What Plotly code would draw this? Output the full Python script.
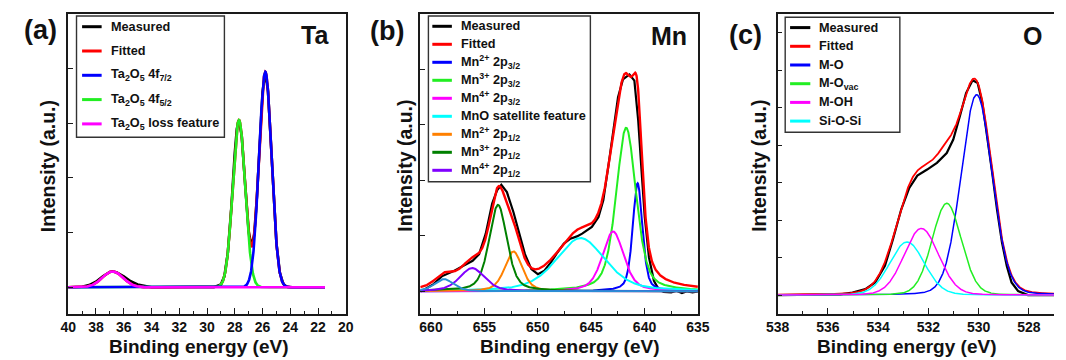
import numpy as np
import plotly.graph_objects as go

W, H = 1066, 360

# ---------------- Panel (a): Ta 4f ----------------
a_meas_E = [40, 39, 38.5, 38, 37.5, 37, 36.8, 36.5, 36, 35.5, 35, 34.5, 34, 32, 30, 29.5, 29, 28.75,
            28.5, 28.25, 28, 27.85, 27.7, 27.5, 27.25, 27, 26.8, 26.6, 26.4, 26.2, 26, 25.8, 25.6,
            25.4, 25.2, 25, 24.75, 24.5, 24.25, 24, 22, 21.5]
a_meas_I = [0.0, 0.01, 0.04, 0.10, 0.20, 0.28, 0.29, 0.27, 0.20, 0.11, 0.05, 0.02, 0.0, 0.0, 0.0, 0.0,
            0.05, 0.20, 0.63, 1.45, 2.45, 2.90, 3.06, 2.77, 1.88, 1.02, 0.76, 0.96, 1.67, 2.66, 3.57,
            3.94, 3.57, 2.65, 1.62, 0.81, 0.26, 0.06, 0.01, 0.0, 0.0, 0.0]
a_names = ["Ta<sub>2</sub>O<sub>5</sub> 4f<sub>7/2</sub>",
           "Ta<sub>2</sub>O<sub>5</sub> 4f<sub>5/2</sub>",
           "Ta<sub>2</sub>O<sub>5</sub> loss feature"]
a_colors = ["#0000ff", "#22ee22", "#ff00ff"]
a_center = [25.80, 27.70, 36.80]
a_height = [3.94, 3.06, 0.29]
a_fwhm = [1.06, 1.06, 1.75]
a_xticks = [40, 38, 36, 34, 32, 30, 28, 26, 24, 22, 20]
a_xminor = [39, 37, 35, 33, 31, 29, 27, 25, 23, 21]

# ---------------- Panel (b): Mn 2p ----------------
b_meas_E = [661, 660.8, 659.76, 658.99, 657.93, 657.0, 656.1, 655.49, 654.87, 654.27, 653.81, 653.41,
            652.89, 652.28, 651.82, 651.2, 650.6, 649.99, 649.38, 648.77, 648.16, 647.55, 646.94,
            646.33, 645.84, 644.93, 644.31, 643.86, 643.4, 642.94, 642.48, 642.02, 641.41, 640.95,
            640.59, 640.28, 639.98, 639.58, 639.12, 638.66, 638.2, 637.5, 637, 636.5, 636, 635.5, 635]
b_meas_I = [0.0, 0.01, 0.13, 0.27, 0.36, 0.46, 0.55, 0.67, 1.04, 1.58, 1.82, 1.92, 1.79, 1.43, 1.10,
            0.67, 0.40, 0.31, 0.37, 0.52, 0.70, 0.86, 0.95, 0.99, 1.04, 1.16, 1.34, 1.64, 2.24, 2.90,
            3.50, 3.82, 3.91, 3.80, 3.08, 2.18, 1.34, 0.61, 0.19, 0.03, -0.01, -0.02, 0.01, -0.03,
            0.0, -0.02, 0.0]
b_names = ["Mn<sup>2+</sup> 2p<sub>3/2</sub>", "Mn<sup>3+</sup> 2p<sub>3/2</sub>",
           "Mn<sup>4+</sup> 2p<sub>3/2</sub>", "MnO satellite feature",
           "Mn<sup>2+</sup> 2p<sub>1/2</sub>", "Mn<sup>3+</sup> 2p<sub>1/2</sub>",
           "Mn<sup>4+</sup> 2p<sub>1/2</sub>", ""]
b_colors = ["#0000ff", "#22ee22", "#ff00ff", "#00ffff", "#ff8000", "#008000", "#8000ff", "#2a8fd4"]
b_center = [640.65, 641.72, 642.94, 645.99, 652.28, 653.72, 656.15, 658.78]
b_height = [1.95, 2.95, 1.08, 0.96, 0.72, 1.56, 0.42, 0.22]
b_fwhm = [1.07, 2.20, 2.35, 5.40, 1.93, 1.98, 2.75, 2.10]
b_xticks = [660, 655, 650, 645, 640, 635]
b_xminor = [657.5, 652.5, 647.5, 642.5, 637.5]

# ---------------- Panel (c): O 1s ----------------
c_meas_E = [538, 537, 536, 535.5, 535.02, 534.51, 534.12, 533.73, 533.41, 533.08, 532.76, 532.44,
            532.05, 531.66, 531.27, 531.01, 530.75, 530.5, 530.24, 530.04, 529.85, 529.66, 529.46,
            529.27, 529.07, 528.88, 528.69, 528.43, 528.04, 527.5, 527]
c_meas_I = [0.0, 0.0, 0.0, 0.02, 0.07, 0.16, 0.34, 0.78, 1.49, 2.29, 2.86, 3.19, 3.35, 3.53, 3.79,
            4.15, 4.77, 5.39, 5.73, 5.66, 5.12, 4.24, 3.26, 2.29, 1.40, 0.78, 0.34, 0.11, 0.0, 0.0, 0.0]
c_names = ["M-O", "M-O<sub>vac</sub>", "M-OH", "Si-O-Si"]
c_colors = ["#0000ff", "#22ee22", "#ff00ff", "#00ffff"]
c_center = [530.08, 531.27, 532.28, 532.85]
c_height = [5.35, 2.45, 1.78, 1.42]
c_fwhm = [1.46, 1.37, 1.62, 1.62]
c_xticks = [538, 536, 534, 532, 530, 528]
c_xminor = [537, 535, 533, 531, 529]

FONT = "Liberation Sans"


def pv(E, c, h, w, eta):
    x = (E - c) / w
    return h * ((1 - eta) * np.exp(-4 * np.log(2) * x ** 2) + eta / (1 + 4 * x ** 2))


panels = [
    dict(sfx="", E=(40.0, 21.5), meas=(a_meas_E, a_meas_I), names=a_names, colors=a_colors,
         center=a_center, height=a_height, fwhm=a_fwhm, eta=0.0, xr=[40, 20], yr=[-0.48, 5.0],
         dom=(57.5, 341.5), xt=a_xticks, xm=a_xminor, lw=2.6, rw=2.6, kw=2.6,
         label="(a)", lab_xy=(29.5, 30), elem="Ta", elem_xy=(326, 35), ymirror=True,
         xtitle_x=191, ytitle_x=37,
         leg=dict(box=(66, 16, 217.3, 137.3), y0=26.7, dy=24.3, lx=(71.7, 91.7), tx=99,
                  entries=[("Measured", "#000000"), ("Fitted", "#ff0000")] + list(zip(a_names, a_colors))),
         top=[1, 0, 2]),
    dict(sfx="2", E=(661.0, 635.0), meas=(b_meas_E, b_meas_I), names=b_names, colors=b_colors,
         center=b_center, height=b_height, fwhm=b_fwhm, eta=0.45, xr=[661, 635], yr=[-0.4, 5.0],
         dom=(417.7, 701.7), xt=b_xticks, xm=b_xminor, lw=2.0, rw=2.4, kw=2.2,
         label="(b)", lab_xy=(383.5, 31), elem="Mn", elem_xy=(693, 36), ymirror=True,
         xtitle_x=570, ytitle_x=401.7,
         leg=dict(box=(426, 16, 591.7, 181.7), y0=26.3, dy=18.0, lx=(430, 450), tx=457,
                  entries=[("Measured", "#000000"), ("Fitted", "#ff0000")] + list(zip(b_names[:7], b_colors[:7]))),
         top=None),
    dict(sfx="3", E=(538.0, 527.0), meas=(c_meas_E, c_meas_I), names=c_names, colors=c_colors,
         center=c_center, height=c_height, fwhm=c_fwhm, eta=0.1, xr=[538, 527], yr=[-0.49, 7.5],
         dom=(783.3, 1066), xt=c_xticks, xm=c_xminor, lw=1.5, rw=1.8, kw=2.2,
         label="(c)", lab_xy=(750, 35), elem="O", elem_xy=(1056, 36), ymirror=False,
         xtitle_x=915, ytitle_x=764,
         leg=dict(box=(791, 17.3, 908.3, 132.3), y0=27.6, dy=18.7, lx=(796, 816.7), tx=824,
                  entries=[("Measured", "#000000"), ("Fitted", "#ff0000")] + list(zip(c_names, c_colors))),
         top=[0, 1, 3, 2]),
]

fig = go.Figure()
shapes = []
annots = []
PT, PB = 14, 313.5
ydom = [1 - PB / H, 1 - PT / H]

for p in panels:
    xs, ys = "x" + p["sfx"], "y" + p["sfx"]
    E = np.linspace(p["E"][0], p["E"][1], 1500)
    comps = [pv(E, c, h, w, p["eta"]) for c, h, w in zip(p["center"], p["height"], p["fwhm"])]
    fit = np.sum(comps, axis=0)
    fig.add_trace(go.Scatter(x=p["meas"][0], y=p["meas"][1], mode="lines", xaxis=xs, yaxis=ys,
                             line=dict(color="#000000", width=p["kw"]), showlegend=False))
    fig.add_trace(go.Scatter(x=E, y=fit, mode="lines", xaxis=xs, yaxis=ys,
                             line=dict(color="#ff0000", width=p["rw"]), showlegend=False))
    order = p["top"] if p["top"] is not None else list(range(len(comps)))
    for i in order:
        fig.add_trace(go.Scatter(x=E, y=comps[i], mode="lines", xaxis=xs, yaxis=ys,
                                 line=dict(color=p["colors"][i], width=p["lw"]), showlegend=False))

    axline = dict(showline=True, linecolor="#1a1a1a", linewidth=1.6, showgrid=False, zeroline=False,
                  ticks="inside", tickcolor="#1a1a1a", tickwidth=1.4)
    fig.update_layout(**{
        "xaxis" + p["sfx"]: dict(axline, domain=[p["dom"][0] / W, p["dom"][1] / W], range=p["xr"],
                                 anchor=ys, mirror=True, ticklen=6, tickvals=p["xt"],
                                 ticktext=["<b>%s</b>" % v for v in p["xt"]],
                                 tickfont=dict(family=FONT, size=14, color="#111111"),
                                 minor=dict(tickvals=p["xm"], ticks="inside", ticklen=3,
                                            tickcolor="#1a1a1a", tickwidth=1.2)),
        "yaxis" + p["sfx"]: dict(axline, domain=ydom, range=p["yr"], anchor=xs, mirror=p["ymirror"],
                                 ticklen=5, tick0=0, dtick=1, showticklabels=False),
    })

    annots.append(dict(text="<b>" + p["label"] + "</b>", x=p["lab_xy"][0] / W, y=1 - p["lab_xy"][1] / H,
                       xref="paper", yref="paper", showarrow=False, xanchor="center", yanchor="middle",
                       font=dict(family=FONT, size=27, color="#111111")))
    annots.append(dict(text="<b>" + p["elem"] + "</b>", x=p["elem_xy"][0] / W, y=1 - p["elem_xy"][1] / H,
                       xref="paper", yref="paper", showarrow=False, xanchor="right", yanchor="middle",
                       font=dict(family=FONT, size=25, color="#111111")))
    annots.append(dict(text="<b>Binding energy (eV)</b>", x=p["xtitle_x"] / W, y=1 - 346 / H,
                       xref="paper", yref="paper", showarrow=False, xanchor="center", yanchor="middle",
                       font=dict(family=FONT, size=19, color="#111111")))
    annots.append(dict(text="<b>Intensity (a.u.)</b>", x=p["ytitle_x"] / W, y=1 - 166 / H, textangle=-90,
                       xref="paper", yref="paper", showarrow=False, xanchor="center", yanchor="middle",
                       font=dict(family=FONT, size=19.5, color="#111111")))

    lg = p["leg"]
    bx0, by0, bx1, by1 = lg["box"]
    shapes.append(dict(type="rect", xref="paper", yref="paper", x0=bx0 / W, x1=bx1 / W,
                       y0=1 - by1 / H, y1=1 - by0 / H, line=dict(color="#333333", width=1.4),
                       fillcolor="white", layer="above"))
    for k, (txt, col) in enumerate(lg["entries"]):
        yy = lg["y0"] + k * lg["dy"]
        shapes.append(dict(type="line", xref="paper", yref="paper", x0=lg["lx"][0] / W, x1=lg["lx"][1] / W,
                           y0=1 - yy / H, y1=1 - yy / H, line=dict(color=col, width=3), layer="above"))
        annots.append(dict(text="<b>" + txt + "</b>", x=lg["tx"] / W, y=1 - yy / H, xref="paper",
                           yref="paper", showarrow=False, xanchor="left", yanchor="middle",
                           font=dict(family=FONT, size=12.7, color="#111111")))

fig.update_layout(width=W, height=H, autosize=False, margin=dict(l=0, r=0, t=0, b=0),
                  paper_bgcolor="white", plot_bgcolor="white", showlegend=False,
                  shapes=shapes, annotations=annots)

fig.write_html("out.html")
